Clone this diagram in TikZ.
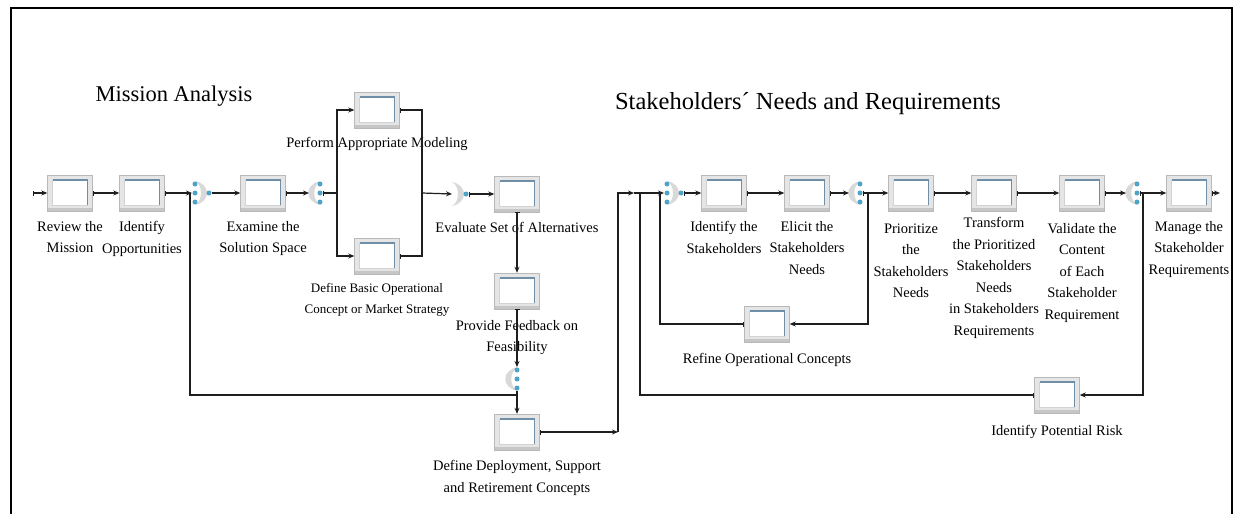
\documentclass[tikz,border=0pt]{standalone}
\usepackage{fontspec}
\setmainfont{Liberation Serif}
\usetikzlibrary{positioning, arrows.meta}

\definecolor{portblue}{HTML}{4FA3C7}
\definecolor{boxedge}{HTML}{6F8FA8}
\definecolor{linegray}{HTML}{1E1E1E}

\tikzset{
  wire/.style={draw=linegray, line width=1.2pt},
  feed/.style={wire, -{Stealth[length=6pt,width=5pt]}},
  tap/.style={wire, {Bar[width=5pt]}-},
  flow/.style={wire, {Bar[width=5pt]}-{Stealth[length=6pt,width=5pt]}},
  task/.style={draw=gray!55, fill=gray!20, minimum width=45, minimum height=36, inner sep=0pt,
    path picture={
      \fill[gray!45] (path picture bounding box.south west) rectangle ([yshift=3pt]path picture bounding box.south east);
      \coordinate (bl) at ([shift={(5pt,6pt)}]path picture bounding box.south west);
      \coordinate (tr) at ([shift={(-5pt,-5pt)}]path picture bounding box.north east);
      \fill[white] (bl) rectangle (tr);
      \draw[gray!35] (tr -| bl) -- (bl) -- (bl -| tr);
      \draw[boxedge, line width=1.5pt] (bl -| tr) -- (tr) -- (tr -| bl);
    }},
  lbl/.style={font=\fontsize{14.5}{21.5}\selectfont, align=center, inner sep=0pt},
  lblsmall/.style={lbl, font=\fontsize{13}{21}\selectfont},
  title/.style={inner sep=0pt},
  % crescent on the left, three ports on the right
  gate/.pic={
    \fill[gray!30] (4,-12) .. controls (-13,-9) and (-13,9) .. (4,12)
                   .. controls (-5,8) and (-5,-8) .. cycle;
    \foreach \dy in {-9,0,9} \fill[portblue] (3,\dy) circle (2.5pt);
    \coordinate (-w) at (-8,0);
    \coordinate (-e) at (6,0);
    \coordinate (-n) at (3,-12);
    \coordinate (-s) at (3,12);
  },
  % three ports on the left, crescent, one port on the right
  join/.pic={
    \fill[gray!30] (-3,-12) .. controls (13,-9) and (13,9) .. (-3,12)
                   .. controls (5,8) and (5,-8) .. cycle;
    \foreach \dy in {-9,0,9} \fill[portblue] (-3,\dy) circle (2.5pt);
    \fill[portblue] (11,0) circle (2.5pt);
    \coordinate (-w) at (-6,0);
    \coordinate (-e) at (14,0);
  },
  merge/.pic={
    \fill[gray!30] (-3,-12) .. controls (13,-9) and (13,9) .. (-3,12)
                   .. controls (5,8) and (5,-8) .. cycle;
    \fill[portblue] (11,0) circle (2.5pt);
    \coordinate (-w) at (-3,0);
    \coordinate (-e) at (14,0);
  },
}

\begin{document}
\begin{tikzpicture}[x=1pt, y=-1pt]
  \useasboundingbox (0,0) rectangle (1235,514);
  \fill[white] (0,0) rectangle (1235,514);
  \draw[line width=2pt] (11,514) |- (1232,8) -- (1232,514);

  \node[title, font=\fontsize{22.5}{27}\selectfont] (ma)  at (174,96)  {Mission Analysis};
  \node[title, font=\fontsize{24.5}{29}\selectfont] (snr) at (808,104) {Stakeholders´ Needs and Requirements};

  % mission analysis
  \coordinate (in) at (33,193);
  \node[task] (rev) at (70,193)  {};
  \node[task] (opp) at (142,193) {};
  \pic (f1) at (198,193) {join};
  \node[task] (exa) at (263,193) {};
  \pic (f2) at (317,193) {gate};
  \node[task] (per) at (377,110) {};
  \node[task] (dbo) at (377,256) {};
  \pic (f3) at (455,194) {merge};
  \node[task] (eva) at (517,194) {};
  \node[task] (pfb) at (517,291) {};
  \pic (f4) at (514,379) {gate};
  \node[task] (dep) at (517,432) {};

  \node[lbl, below=10pt of rev] {Review the\\Mission};
  \node[lbl, below=10pt of opp] {Identify\\Opportunities};
  \node[lbl, below=10pt of exa] {Examine the\\Solution Space};
  \node[lbl, below=9pt of per] {Perform Appropriate Modeling};
  \node[lblsmall, below=9pt of dbo] {Define Basic Operational\\Concept or Market Strategy};
  \node[lbl, below=10pt of eva] {Evaluate Set of Alternatives};
  \node[lbl, below=11pt of pfb] {Provide Feedback on\\Feasibility};
  \node[lbl, below=10pt of dep] {Define Deployment, Support\\and Retirement Concepts};

  \coordinate (b1) at (190,193);
  \coordinate (b2) at (517,395);
  \coordinate (sp1) at (337,193);
  \coordinate (mg1) at (422,193);
  \coordinate (d1) at (618,432);
  \coordinate (d2) at (634,193);

  \draw[flow] (in) -- (rev);
  \draw[flow] (rev) -- (opp);
  \draw[flow] (opp) -- (f1-w);
  \draw[wire] (b1) |- (b2);
  \draw[feed] (f1-e) -- (exa);
  \draw[flow] (exa) -- (f2-w);
  \draw[tap] (f2-e) -- (sp1);
  \draw[feed] (sp1) |- (per);
  \draw[feed] (sp1) |- (dbo);
  \draw[tap] (per) -| (mg1);
  \draw[tap] (dbo) -| (mg1);
  \draw[feed] (mg1) -- (f3-w);
  \draw[flow] (f3-e) -- (eva);
  \draw[flow] (eva) -- (pfb);
  \draw[flow] (pfb) -- (f4-n);
  \draw[feed] (f4-s) -- (dep);
  \draw[flow] (dep) -- (d1);
  \draw[feed] (d1) |- (d2);

  % stakeholders needs and requirements
  \pic (f5) at (670,193) {join};
  \node[task] (ids) at (724,193) {};
  \node[task] (eli) at (807,193) {};
  \pic (f6) at (857,193) {gate};
  \node[task] (pri) at (911,193) {};
  \node[task] (tra) at (994,193) {};
  \node[task] (val) at (1082,193) {};
  \pic (f7) at (1134,193) {gate};
  \node[task] (man) at (1189,193) {};
  \coordinate (out) at (1220,193);
  \node[task] (ref) at (767,324) {};
  \node[task] (rsk) at (1057,395) {};

  \node[lbl, below=10pt of ids] {Identify the\\Stakeholders};
  \node[lbl, below=10pt of eli] {Elicit the\\Stakeholders\\Needs};
  \node[lbl, below=12pt of pri] {Prioritize\\the\\Stakeholders\\Needs};
  \node[lbl, below=6pt of tra] {Transform\\the Prioritized\\Stakeholders\\Needs\\in Stakeholders\\Requirements};
  \node[lbl, below=12pt of val] {Validate the\\Content\\of Each\\Stakeholder\\Requirement};
  \node[lbl, below=10pt of man] {Manage the\\Stakeholder\\Requirements};
  \node[lbl, below=11pt of ref] {Refine Operational Concepts};
  \node[lbl, below=12pt of rsk] {Identify Potential Risk};

  \coordinate (b3) at (640,193);
  \coordinate (b4) at (660,193);
  \coordinate (sp2) at (868,193);
  \coordinate (sp3) at (1143,193);

  \draw[feed] (d2) -- (f5-w);
  \draw[flow] (f5-e) -- (ids);
  \draw[flow] (ids) -- (eli);
  \draw[flow] (eli) -- (f6-w);
  \draw[tap] (f6-e) -- (sp2);
  \draw[feed] (sp2) -- (pri);
  \draw[feed] (sp2) |- (ref);
  \draw[tap] (ref) -| (b4);
  \draw[flow] (pri) -- (tra);
  \draw[flow] (tra) -- (val);
  \draw[flow] (val) -- (f7-w);
  \draw[tap] (f7-e) -- (sp3);
  \draw[feed] (sp3) -- (man);
  \draw[feed] (sp3) |- (rsk);
  \draw[tap] (rsk) -| (b3);
  \draw[flow] (man) -- (out);
\end{tikzpicture}
\end{document}
